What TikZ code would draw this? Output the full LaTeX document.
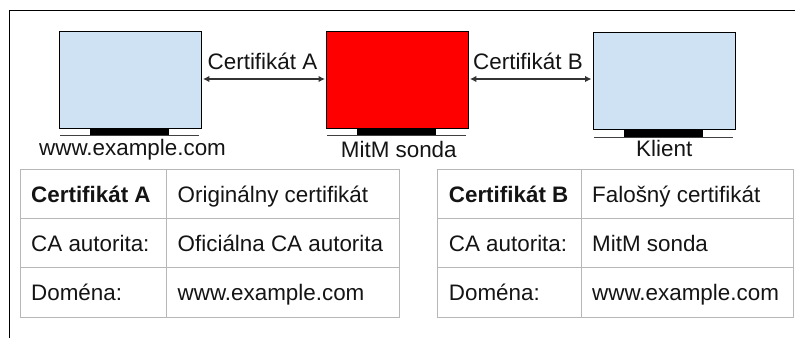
\documentclass[tikz,border=0pt]{standalone}
\usepackage{fontspec}
\setmainfont{Liberation Sans}
\usetikzlibrary{arrows.meta}
\definecolor{boxblue}{HTML}{CFE2F3}
\definecolor{gridgray}{HTML}{B7B7B7}
\tikzset{
  screenbox/.style={draw=black,line width=0.9pt,anchor=north west,inner sep=0pt,minimum width=142pt,minimum height=97pt},
  standbox/.style={fill=black,draw=none,anchor=north west,inner sep=0pt,minimum width=79pt,minimum height=6.5pt},
  label/.style={anchor=base west,inner sep=0pt,font=\fontsize{22.4}{26}\selectfont,text=black!92},
  boldlabel/.style={label,font=\fontsize{22.4}{26}\selectfont\bfseries},
  grid/.style={draw=gridgray,line width=1pt},
  shelf/.style={draw=black!75,line width=0.9pt},
  link/.style={draw=black!80,line width=1.2pt,{Latex[length=6.5pt,width=6.5pt]}-{Latex[length=6.5pt,width=6.5pt]},shorten <=1pt,shorten >=1pt}
}
\begin{document}
\begin{tikzpicture}[x=1pt,y=-1pt]
\useasboundingbox (0,0) rectangle (795,338);
% frame
\coordinate (fs) at (9,338);
\coordinate (fc) at (9,10.5);
\coordinate (fe) at (795,10.5);
\draw[black,line width=0.9pt] (fs) -- (fc) -- (fe);
% computers
\node[screenbox,fill=boxblue] (srv) at (59,30.5) {};
\node[screenbox,fill=red] (mitm) at (326,30.5) {};
\node[screenbox,fill=boxblue] (cli) at (592.5,31.5) {};
\node[standbox] (srvs) at (90,129) {};
\node[standbox] (mitms) at (357,129) {};
\node[standbox] (clis) at (624,130) {};
\coordinate (srvl) at (60,135.7); \coordinate (srvr) at (199,135.7);
\coordinate (mitml) at (327,135.7); \coordinate (mitmr) at (466,135.7);
\coordinate (clil) at (594,137); \coordinate (clir) at (732.5,137);
\draw[shelf] (srvl) -- (srvr);
\draw[shelf] (mitml) -- (mitmr);
\draw[shelf] (clil) -- (clir);
% connectors
\draw[link] (srv.east |- 0,79) -- (mitm.west |- 0,79);
\draw[link] (mitm.east |- 0,79) -- (cli.west |- 0,79);
% labels
\node[label] (la) at (207.5,69) {Certifikát A};
\node[label] (lb) at (473,69) {Certifikát B};
\node[label] (n1) at (39,155.7) {www.example.com};
\node[label] (n2) at (340.7,157) {MitM sonda};
\node[label] (n3) at (636,156.7) {Klient};
% table A
\draw[grid] (20,169) rectangle (399.5,317);
\draw[grid] (20,218) -- (399.5,218);
\draw[grid] (20,267) -- (399.5,267);
\draw[grid] (166.5,169) -- (166.5,317);
\node[boldlabel] (a1) at (31,202) {Certifikát A};
\node[label] (a2) at (177.5,202) {Originálny certifikát};
\node[label] (a3) at (31,251) {CA autorita:};
\node[label] (a4) at (177.5,251) {Oficiálna CA autorita};
\node[label] (a5) at (31,300) {Doména:};
\node[label] (a6) at (177.5,300) {www.example.com};
% table B
\draw[grid] (437,169) rectangle (793.5,317);
\draw[grid] (437,218) -- (793.5,218);
\draw[grid] (437,267) -- (793.5,267);
\draw[grid] (581,169) -- (581,317);
\node[boldlabel] (b1) at (448.7,202) {Certifikát B};
\node[label] (b2) at (592,202) {Falošný certifikát};
\node[label] (b3) at (448.7,251) {CA autorita:};
\node[label] (b4) at (592,251) {MitM sonda};
\node[label] (b5) at (448.7,300) {Doména:};
\node[label] (b6) at (592,300) {www.example.com};
\end{tikzpicture}
\end{document}
